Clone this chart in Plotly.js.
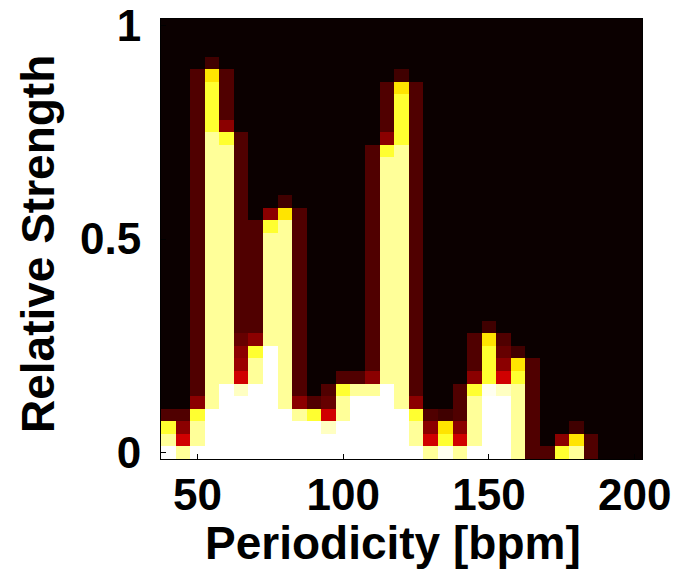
<!DOCTYPE html>
<html>
<head>
<meta charset="utf-8">
<script src="https://cdn.plot.ly/plotly-3.0.1.min.js"></script>
<style>html,body{margin:0;padding:0;background:#fff;}#chart{width:686px;height:573px;}</style>
</head>
<body>
<div id="chart"></div>
<script>
// Periodicity bin centres (bpm)
const bpm = [40,45,50,55,60,65,70,75,80,85,90,95,100,105,110,115,120,125,130,135,140,145,150,155,160,165,170,175,180,185,190,195,200];
// Relative-strength bin centres (0 .. 1 in 34 steps)
const strength = [0,0.0294,0.0588,0.0882,0.1176,0.1471,0.1765,0.2059,0.2353,0.2647,0.2941,0.3235,0.3529,0.3824,0.4118,0.4412,0.4706,0.5,0.5294,0.5588,0.5882,0.6176,0.6471,0.6765,0.7059,0.7353,0.7647,0.7941,0.8235,0.8529,0.8824,0.9118,0.9412,0.9706,1];
// Cell intensity per periodicity column, read bottom -> top as [value, number of cells]
const columnRuns = [
  [[1,1],[.9,1],[.797,1],[.118,1],[.016,31]],
  [[.9,1],[.306,1],[.205,1],[.118,1],[.016,31]],
  [[1,1],[.9,2],[.797,1],[.205,1],[.118,26],[.016,4]],
  [[1,4],[.9,22],[.797,4],[.71,1],[.094,1],[.016,3]],
  [[1,6],[.9,19],[.797,1],[.205,1],[.118,4],[.016,4]],
  [[1,5],[.94,1],[.306,1],[.226,1],[.205,1],[.15,1],[.118,16],[.016,9]],
  [[1,6],[.9,2],[.797,1],[.205,1],[.118,9],[.016,16]],
  [[1,9],[.9,9],[.797,1],[.205,1],[.016,15]],
  [[1,4],[.9,15],[.71,1],[.094,1],[.016,14]],
  [[1,3],[.9,1],[.205,1],[.118,15],[.016,15]],
  [[1,3],[.797,1],[.118,1],[.016,30]],
  [[1,2],[.94,1],[.306,1],[.15,1],[.118,1],[.016,29]],
  [[1,3],[.9,2],[.797,1],[.118,1],[.016,28]],
  [[1,5],[.9,1],[.118,1],[.016,28]],
  [[1,5],[.9,1],[.205,1],[.118,18],[.016,10]],
  [[1,6],[.9,18],[.797,1],[.205,1],[.118,4],[.016,5]],
  [[1,4],[.9,21],[.797,4],[.71,1],[.094,1],[.016,4]],
  [[1,1],[.9,2],[.797,1],[.205,1],[.118,25],[.016,5]],
  [[.9,1],[.306,1],[.205,1],[.118,1],[.016,31]],
  [[.985,1],[.797,1],[.71,1],[.094,1],[.016,31]],
  [[.9,1],[.306,1],[.205,1],[.118,3],[.016,29]],
  [[1,1],[.9,4],[.797,1],[.205,1],[.118,3],[.016,25]],
  [[1,5],[.985,1],[.797,3],[.71,1],[.094,1],[.016,24]],
  [[1,5],[.94,1],[.306,1],[.205,1],[.15,1],[.118,1],[.016,25]],
  [[.9,6],[.797,1],[.71,1],[.094,1],[.016,26]],
  [[.118,8],[.016,27]],
  [[.118,1],[.016,34]],
  [[.797,1],[.205,1],[.016,33]],
  [[.9,1],[.71,1],[.094,1],[.016,32]],
  [[.118,2],[.016,33]],
  [[.016,35]],
  [[.016,35]],
  [[.016,35]]
];
const xTicks = [50,100,150,200];
const yTicks = [0,0.5,1];
const yTickText = ['0','0.5','1'];
const xTitle = 'Periodicity [bpm]';
const yTitle = 'Relative Strength';

const columns = columnRuns.map(runs => {
  const out = [];
  runs.forEach(([v, n]) => { for (let k = 0; k < n; k++) out.push(v); });
  return out;
});
const z = strength.map((_, r) => bpm.map((_, c) => columns[c][r]));

const hot = [[0,'rgb(0,0,0)'],[0.375,'rgb(255,0,0)'],[0.75,'rgb(255,255,0)'],[1,'rgb(255,255,255)']];
const F = {family: 'Liberation Sans, Arial, sans-serif', size: 44, color: '#000', weight: 'bold'};
const FT = {family: 'Liberation Sans, Arial, sans-serif', size: 46, color: '#000', weight: 'bold'};

Plotly.newPlot('chart', [{
  type: 'heatmap', x: bpm, y: strength, z: z,
  colorscale: hot, zmin: 0, zmax: 1, zsmooth: false, showscale: false, hoverinfo: 'skip'
}], {
  width: 686, height: 573,
  margin: {l: 161, r: 44, t: 19, b: 114},
  paper_bgcolor: '#fff', plot_bgcolor: '#fff',
  font: F,
  xaxis: {
    range: [37.5, 202.5], tickvals: xTicks, ticks: 'inside', ticklen: 5, tickcolor: '#000',
    showline: true, linecolor: '#000', linewidth: 1, mirror: true, showgrid: false, zeroline: false,
    tickfont: F, ticklabelstandoff: -3
  },
  yaxis: {
    range: [-0.0147, 1.0147], tickvals: yTicks, ticktext: yTickText, ticks: 'inside', ticklen: 5, tickcolor: '#000',
    showline: true, linecolor: '#000', linewidth: 1, mirror: true, showgrid: false, zeroline: false,
    tickfont: F, ticklabelstandoff: 10
  },
  annotations: [
    {text: xTitle, font: FT, xref: 'paper', yref: 'paper', x: 0.482, y: -0.19, xanchor: 'center', yanchor: 'middle', showarrow: false},
    {text: yTitle, font: FT, textangle: -90, xref: 'paper', yref: 'paper', x: -0.2557, y: 0.4886, xanchor: 'center', yanchor: 'middle', showarrow: false}
  ]
}, {displayModeBar: false, staticPlot: true});
</script>
</body>
</html>
